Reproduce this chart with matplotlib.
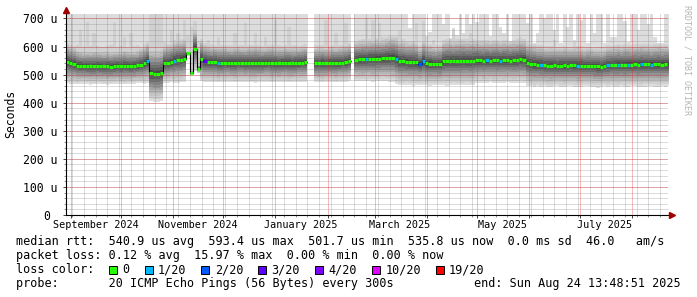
import numpy as np
import matplotlib
matplotlib.use("Agg")
import matplotlib.pyplot as plt
from matplotlib.patches import Rectangle
from matplotlib.transforms import blended_transform_factory

nan = np.nan

plt.rcParams.update({
    "font.family": "DejaVu Sans Mono",
    "font.size": 8.5,
})

W, H = 697, 297

# 2-day bins starting 2024-08-29, values in microseconds (nan = no data)
START = np.datetime64("2024-08-29")
BIN = 2

median_us = (
    [545, 541, 537]
    + [532, 531, 530, 530, 529, 530, 531, 530, 529, 530, 528, 530, 531, 530, 532, 531, 530]
    + [531, 533, 536, 541, 547]
    + [505, 504, 504, 507]
    + [541, 543, 546, 550, 552, 553, 557]
    + [576, 507, 593, 521]
    + [556, 547, 545, 544, 544, 543]
    + [542, 543, 542, 541, 542, 543, 542, 541, 542, 542, 543, 542, 541,
       542, 543, 542, 541, 540, 541, 542, 541, 540, 541, 542, 543, 544]
    + [nan, nan]
    + [540, 540, 541, 540, 541, 542, 541, 542, 543, 545, 548]
    + [nan]
    + [553, 554, 555, 555, 556, 556, 557, 557, 558, 559, 560, 561]
    + [556, 549, 548, 546, 545, 545, 544, 537, 549]
    + [540, 539, 538, 537, 538, 547]
    + [548, 549, 548, 549, 549, 550, 549, 549, 550]
    + [551, 551, 550, 551, 550, 551, 551, 550, 551, 551, 550, 551, 552, 554, 553]
    + [542, 538, 537, 536, 535]
    + [533, 532, 532, 533, 532, 532, 533, 532, 533]
    + [533, 532, 532, 531, 532]
    + [531, 530, 529, 527, 530]
    + [534, 535, 535, 536, 535, 536, 536, 536]
    + [537, 536, 537, 537, 537, 536, 537, 537, 536, 537, 537]
)

# fastest ping of each bin (bottom of the smoke)
ping_min_us = (
    [470, 468, 466, 465, 467, 468, 466, 464, 465, 467, 466, 465, 463,
     465, 466, 468, 466, 465, 467, 466, 468, 470, 469, 468, 470]
    + [405, 404, 404, 406]
    + [470, 471, 472, 470, 471, 472, 474]
    + [568, 500, 512, 505]
    + [476, 474, 473, 475, 474, 472, 473, 474, 475, 473, 472, 474, 475, 473, 474, 472,
       471, 473, 474, 475, 473, 472, 474, 473, 475, 474, 472, 473, 474, 475, 473, 474]
    + [nan, nan]
    + [474, 473, 472, 474, 475, 473, 472, 474, 473, 475, 476]
    + [nan]
    + [478, 477, 476, 478, 477, 475, 476, 477, 478, 476, 475, 474]
    + [465, 463, 462, 464, 463, 461, 462, 464, 463, 462, 461, 463,
       464, 462, 463, 461, 462, 464, 463, 462, 463, 464, 462, 463]
    + [470, 471, 469, 470, 472, 470, 469, 471, 470, 472, 471, 469, 470, 471, 470]
    + [461, 458, 456, 459, 457, 458, 456, 455, 458, 459, 457, 456, 458, 460, 457,
       455, 456, 458, 459, 457, 456, 454, 457, 458, 456, 459, 457, 455, 458, 456,
       457, 459, 458, 456, 455, 457, 458, 459, 457, 456, 458, 457, 459]
)

# second slowest ping (medium grey streaks)
ping_p95_us = (
    [600, 602, 598, 605, 659, 600, 689, 601, 647, 603, 600, 598, 602,
     605, 689, 600, 601, 635, 600, 647, 602, 605, 600, 610, 612]
    + [760, 760, 740, 760]
    + [615, 610, 659, 608, 647, 612, 695]
    + [640, 671, 690, 620]
    + [610, 605, 623, 608, 604, 635, 606, 603, 605, 604, 647, 602, 605, 683, 604, 603,
       647, 605, 602, 635, 606, 604, 695, 605, 603, 607, 671, 604, 606, 603, 605, 608]
    + [nan, nan]
    + [606, 604, 605, 695, 603, 606, 647, 604, 605, 683, 610]
    + [nan]
    + [612, 610, 614, 700, 611, 695, 613, 683, 635, 612, 614, 615]
    + [610, 659, 605, 604, 603, 606, 683, 604, 690, 603, 605, 623,
       604, 602, 606, 603, 604, 659, 603, 605, 604, 602, 647, 604]
    + [605, 603, 604, 606, 620, 603, 605, 604, 606, 603, 605, 604, 606, 635, 604]
    + [600, 598, 596, 597, 598, 596, 597, 598, 623, 597, 596, 598, 597, 596, 615,
       598, 597, 596, 598, 597, 596, 598, 597, 599, 598, 596, 597, 598, 599, 597,
       598, 596, 597, 598, 599, 597, 596, 598, 597, 599, 598, 597, 598]
)

# slowest ping (top of the smoke, often above the chart)
ping_max_us = (
    [800] * 72 + [nan, nan] + [800] * 11 + [nan] + [800] * 16
    + [665, 800, 800, 800, 800, 636, 652, 800, 800, 800]
    + [682, 800, 630, 665, 642, 800, 648, 800, 682, 800]
    + [689, 800, 800, 800, 636, 800, 800, 671, 647, 800]
    + [611, 800, 800, 800, 800, 683, 800, 611, 647, 800]
    + [700, 800, 800, 659, 800, 611, 800, 671, 800, 623]
    + [800, 695, 800, 611, 800, 647, 800, 800, 611, 800]
    + [635, 635, 800, 800, 690, 617, 800, 800, 659, 800]
    + [800, 680, 800, 635, 611, 611, 800, 800]
)

# bins with packet loss (index into loss legend)
loss_bins = [24, 32, 41, 45, 89, 98, 105, 106, 125, 129, 141, 152, 161, 164, 167, 171, 174]
loss_level = [1, 1, 3, 1, 1, 1, 2, 1, 1, 1, 1, 1, 1, 1, 1, 1, 1]

loss_labels = ["0", "1/20", "2/20", "3/20", "4/20", "10/20", "19/20"]
loss_colors = ["#26ff00", "#00b8ff", "#0059ff", "#5e00ff", "#7e00ff", "#dd00ff", "#ff0000"]

month_starts = ["2024-09-01", "2024-10-01", "2024-11-01", "2024-12-01", "2025-01-01",
                "2025-02-01", "2025-03-01", "2025-04-01", "2025-05-01", "2025-06-01",
                "2025-07-01", "2025-08-01"]
label_months = ["2024-09-01", "2024-11-01", "2025-01-01", "2025-03-01", "2025-05-01", "2025-07-01"]
month_labels = ["September 2024", "November 2024", "January 2025", "March 2025", "May 2025", "July 2025"]

y_ticks = [0, 100, 200, 300, 400, 500, 600, 700]
y_labels = ["0 ", "100 u", "200 u", "300 u", "400 u", "500 u", "600 u", "700 u"]

stats_rows = [
    "median rtt:  540.9 us avg  593.4 us max  501.7 us min  535.8 us now  0.0 ms sd  46.0   am/s",
    "packet loss: 0.12 % avg  15.97 % max  0.00 % min  0.00 % now",
]
probe_text = "probe:       20 ICMP Echo Pings (56 Bytes) every 300s"
end_text = "end: Sun Aug 24 13:48:51 2025"


def days(dates):
    return (np.array(dates, dtype="datetime64[D]") - START).astype(float)


fig = plt.figure(figsize=(W / 100, H / 100), dpi=100)
ax = fig.add_axes([66 / W, (H - 215) / H, 602 / W, 201 / H])

med = np.array(median_us, float)
lo = np.array(ping_min_us, float)
hi = np.array(ping_max_us, float)
p95 = np.array(ping_p95_us, float)
left = np.arange(len(med)) * BIN
spread = med - lo


def band(bottom, top, color):
    ok = np.flatnonzero(~np.isnan(bottom) & ~np.isnan(top))
    for r in np.split(ok, np.flatnonzero(np.diff(ok) > 1) + 1):
        x = np.append(left[r], left[r[-1]] + BIN)
        ax.fill_between(x, np.append(bottom[r], bottom[r[-1]]), np.append(top[r], top[r[-1]]),
                        step="post", color=color, linewidth=0, zorder=1)


# smoke: outer bands light, inner bands dark
band(lo, hi, "#dddddd")
band(med - 0.9 * spread, np.maximum(p95, med + 0.9 * spread), "#d0d0d0")
greys = [0xc4, 0xb5, 0xa5, 0x94, 0x82, 0x6f, 0x5b, 0x46]
for k, g in enumerate(greys):
    f = 0.8 - 0.1 * k
    band(med - f * spread, med + f * spread, "#%02x%02x%02x" % (g, g, g))

# median line coloured by loss
loss = np.zeros(len(med), int)
loss[loss_bins] = loss_level
ax.step(np.append(left, left[-1] + BIN), np.append(med, med[-1]), where="post",
        color="black", lw=0.8, zorder=3)
ax.hlines(med, left, left + BIN, colors=[loss_colors[l] for l in loss], lw=2.3, zorder=4)

ax.set_xlim(0.3, 0.3 + 602 / 1.68)
ax.set_ylim(0, 716)

month_pos = days(month_starts)
week_pos = np.arange(days(["2024-09-02"])[0], 360, 7)
ax.set_xticks(month_pos)
ax.set_xticks(week_pos, minor=True)
ax.set_yticks(y_ticks, y_labels)
ax.set_yticks(np.arange(0, 716, 20), minor=True)
ax.tick_params(axis="x", which="both", labelbottom=False)
ax.tick_params(which="major", length=2.2, width=0.7, color="#404040", pad=4)
ax.tick_params(which="minor", length=1.4, width=0.7, color="#909090")
ax.tick_params(axis="y", labelsize=8.3)

# dotted grid drawn over the smoke
dot = (0, (1, 1))
minor_kw = dict(colors=[(0.45, 0.45, 0.45, 0.5)], linestyles=[dot], linewidths=0.72, zorder=2)
major_kw = dict(colors=[(0.91, 0.13, 0.13, 0.62)], linestyles=[dot], linewidths=0.72, zorder=2.1)
ax.vlines(week_pos, 0, 716, **minor_kw)
ax.hlines(np.arange(20, 716, 20), 0.3, 359, **minor_kw)
ax.vlines(month_pos, 0, 716, **major_kw)
ax.hlines(y_ticks[1:], 0.3, 359, **major_kw)

for s in ax.spines.values():
    s.set_visible(False)

# axis lines with arrow heads
ax.plot([0, 0], [0, 1.015], transform=ax.transAxes, color="black", lw=0.8, clip_on=False, zorder=6)
ax.plot([0, 1.004], [0, 0], transform=ax.transAxes, color="black", lw=0.8, clip_on=False, zorder=6)
ax.plot([0], [1.02], marker="^", ms=4, color="#a00000", transform=ax.transAxes, clip_on=False, zorder=7)
ax.plot([1.006], [0], marker=">", ms=4, color="#a00000", transform=ax.transAxes, clip_on=False, zorder=7)

# month labels at mid-month
tr = blended_transform_factory(ax.transData, ax.transAxes)
for d, lab in zip(days(label_months) + 15, month_labels):
    ax.text(d, -0.05, lab, transform=tr, ha="center", va="center", fontsize=7.3)

fig.text(11 / W, 1 - 114 / H, "Seconds", rotation=90, ha="center", va="center", fontsize=8.3)
fig.text(687 / W, 1 - 60 / H, "RRDTOOL / TOBI OETIKER", rotation=270, ha="center", va="center",
         fontsize=6, color="#b4b4b4")

# legend block
CW = 7.1  # px per monospace character
x0 = 16


def ftext(xp, yp, s, **kw):
    fig.text(xp / W, 1 - yp / H, s, va="baseline", ha=kw.pop("ha", "left"), **kw)


ftext(x0, 245.5, stats_rows[0])
ftext(x0, 259.5, stats_rows[1])
ftext(x0, 273.3, "loss color:")
col = 13
for lab, c in zip(loss_labels, loss_colors):
    bx = x0 + col * CW + 0.7
    fig.patches.append(Rectangle((bx / W, 1 - 273.5 / H), 8 / W, 8 / H, transform=fig.transFigure,
                                 facecolor=c, edgecolor="black", linewidth=0.7))
    ftext(x0 + (col + 2) * CW, 273.3, lab)
    col = col + 2 + len(lab) + 2
ftext(x0, 287.3, probe_text)
ftext(681, 287.3, end_text, ha="right")

fig.savefig("out.png", dpi=100, facecolor="white")
